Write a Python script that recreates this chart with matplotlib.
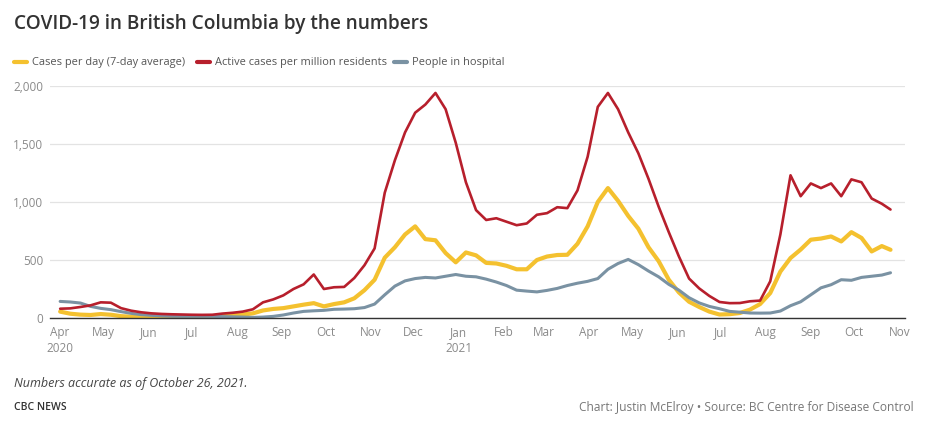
import matplotlib
matplotlib.use("Agg")
import matplotlib.pyplot as plt
import matplotlib.dates as mdates
import pandas as pd

# weekly readings, first week of April 2020 to Oct 26, 2021
dates = list(pd.date_range("2020-04-01", periods=82, freq="7D")) + [pd.Timestamp("2021-10-26")]

cases = [55, 37, 29, 26, 34, 28, 16, 11, 9, 7, 6, 6, 6, 7, 10, 14, 18, 23, 30, 40,
         65, 78, 85, 100, 115, 128, 100, 120, 135, 170, 240, 330, 520, 610, 720, 790,
         680, 670, 560, 480, 565, 540, 475, 470, 450, 420, 420, 500, 530, 543, 545,
         640, 790, 1000, 1120, 1010, 880, 770, 610, 490, 330, 220, 140, 95, 55, 30,
         33, 43, 72, 120, 215, 400, 517, 590, 675, 685, 703, 660, 740, 690, 574, 620, 588]

active = [80, 83, 95, 109, 135, 132, 85, 63, 49, 40, 35, 32, 30, 28, 27, 28, 38, 45,
          55, 75, 135, 160, 195, 250, 290, 375, 250, 265, 268, 345, 455, 600, 1080,
          1360, 1600, 1770, 1840, 1940, 1800, 1510, 1170, 930, 845, 860, 830, 800, 815,
          890, 904, 955, 947, 1100, 1390, 1820, 1940, 1800, 1600, 1420, 1200, 960, 740,
          530, 340, 255, 190, 138, 128, 129, 144, 150, 316, 720, 1230, 1050, 1160, 1120,
          1160, 1050, 1195, 1170, 1030, 985, 935]

hospital = [143, 138, 129, 100, 83, 72, 55, 40, 29, 23, 18, 15, 14, 14, 14, 14, 12, 10,
            8, 5, 8, 14, 26, 43, 57, 62, 66, 75, 77, 80, 90, 120, 200, 275, 320, 340,
            350, 345, 360, 375, 360, 355, 335, 310, 280, 240, 232, 225, 238, 255, 280,
            300, 316, 340, 420, 470, 505, 460, 405, 355, 290, 240, 175, 130, 100, 80,
            57, 50, 43, 42, 43, 60, 106, 140, 200, 260, 287, 330, 325, 350, 360, 370, 390]

labels = ["Cases per day (7-day average)", "Active cases per million residents", "People in hospital"]
colors = ["#f4c12f", "#b71f2c", "#7a92a3"]

plt.rcParams['font.family'] = ['Open Sans', 'DejaVu Sans']

fig = plt.figure(figsize=(9.32, 4.22), dpi=100)
ax = fig.add_axes([50 / 932, 104 / 422, 855 / 932, 232 / 422])

ax.plot(dates, cases, color=colors[0], lw=3.0, solid_capstyle='round', zorder=3)
ax.plot(dates, hospital, color=colors[2], lw=2.2, solid_capstyle='round', zorder=4)
ax.plot(dates, active, color=colors[1], lw=1.9, solid_capstyle='round', zorder=5)

ax.set_ylim(0, 2000)
ax.set_xlim(pd.Timestamp("2020-03-25"), pd.Timestamp("2021-11-05"))
ax.set_yticks([0, 500, 1000, 1500, 2000])
ax.set_yticklabels(["0", "500", "1,000", "1,500", "2,000"])
ax.grid(axis='y', color='#e3e3e3', lw=0.9)
ax.set_axisbelow(True)
for s in ['top', 'right', 'left']:
    ax.spines[s].set_visible(False)
ax.spines['bottom'].set_color('#333333')
ax.spines['bottom'].set_linewidth(1.0)
ax.spines['bottom'].set_zorder(6)

ax.xaxis.set_major_locator(mdates.MonthLocator())

def fmt(x, pos=None):
    d = mdates.num2date(x)
    s = d.strftime("%b")
    if d.month == 4 and d.year == 2020 or d.month == 1:
        s += "\n" + str(d.year)
    return s

ax.xaxis.set_major_formatter(plt.FuncFormatter(fmt))
ax.tick_params(axis='both', length=0, colors='#8a8a8a', labelsize=8.5)
ax.tick_params(axis='x', pad=6)
ax.tick_params(axis='y', pad=5)
for t in ax.get_xticklabels():
    t.set_linespacing(1.3)

fig.text(14 / 932, 1 - 24 / 422, "COVID-19 in British Columbia by the numbers",
         fontsize=13.7, fontweight='semibold', color='#333333', va='center', ha='left')

# legend row
leg_x = [14, 197, 394]
for lx, lab, c in zip(leg_x, labels, colors):
    fig.add_artist(plt.Line2D([lx / 932, (lx + 13) / 932], [1 - 62 / 422] * 2,
                              color=c, lw=3, solid_capstyle='round', transform=fig.transFigure))
    fig.text((lx + 18) / 932, 1 - 62 / 422, lab, fontsize=7.9, color='#555555',
             va='center', ha='left')

fig.text(14 / 932, 1 - 384 / 422, "Numbers accurate as of October 26, 2021.",
         fontsize=9.0, style='italic', color='#444444', va='center', ha='left')
fig.text(14 / 932, 1 - 408 / 422, "CBC NEWS", fontsize=7.5, fontweight='semibold',
         color='#333333', va='center', ha='left')
fig.text(914 / 932, 1 - 408 / 422,
         "Chart: Justin McElroy \u2022 Source: BC Centre for Disease Control",
         fontsize=8.6, color='#777777', va='center', ha='right')

fig.savefig("out.png", dpi=100)
